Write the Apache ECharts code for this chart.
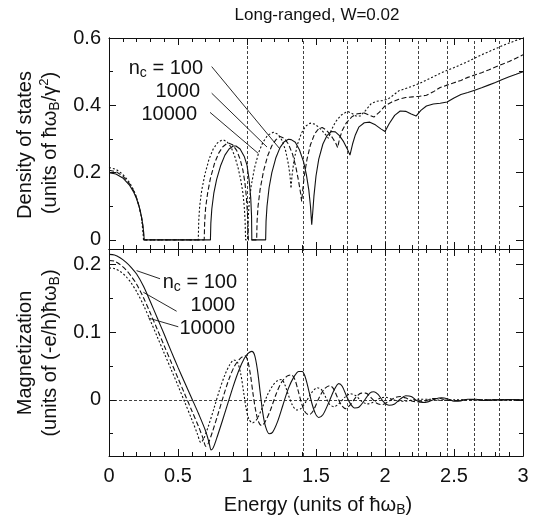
<!DOCTYPE html>
<html>
<head>
<meta charset="utf-8">
<title>Long-ranged, W=0.02</title>
<script src="https://cdn.jsdelivr.net/npm/echarts@6/dist/echarts.min.js"></script>
<style>
    html, body { margin: 0; padding: 0; background: #fff; }
    #chart { width: 537px; height: 520px; }
</style>
</head>
<body>
<div id="chart"></div>
<script>
// density of states, [energy, value]
const dos100 = [[0,0.2],[0.05,0.196],[0.1,0.184],[0.15,0.162],[0.18,0.141],[0.2,0.122],[0.22,0.096],[0.235,0.07],[0.245,0.045],[0.252,0.02],[0.255,0],
    [0.735,0],[0.738,0.05],[0.745,0.092],[0.76,0.14],[0.78,0.18],[0.81,0.222],[0.84,0.252],[0.87,0.27],[0.9,0.279],[0.92,0.279],[0.95,0.27],[0.98,0.248],[1.0,0.222],[1.015,0.18],[1.027,0.125],[1.033,0.07],[1.035,0],
    [1.135,0],[1.138,0.055],[1.145,0.1],[1.16,0.155],[1.18,0.2],[1.21,0.245],[1.24,0.275],[1.27,0.292],[1.3,0.299],[1.32,0.298],[1.35,0.29],[1.38,0.268],[1.41,0.232],[1.43,0.195],[1.448,0.148],[1.46,0.1],[1.469,0.045],
    [1.476,0.08],[1.485,0.13],[1.5,0.19],[1.52,0.24],[1.55,0.285],[1.58,0.31],[1.61,0.322],[1.64,0.321],[1.67,0.31],[1.7,0.292],[1.725,0.272],[1.746,0.252],
    [1.765,0.285],[1.785,0.312],[1.81,0.335],[1.85,0.348],[1.89,0.35],[1.93,0.342],[1.97,0.33],[2.0,0.322],[2.03,0.345],[2.07,0.37],[2.11,0.383],[2.15,0.382],[2.19,0.374],[2.225,0.368],
    [2.26,0.385],[2.3,0.398],[2.35,0.404],[2.4,0.406],[2.45,0.41],[2.5,0.422],[2.55,0.432],[2.6,0.438],[2.65,0.445],[2.7,0.452],[2.75,0.46],[2.8,0.468],[2.85,0.477],[2.9,0.485],[2.95,0.492],[3.0,0.5]];
const dos1000 = [[0,0.207],[0.05,0.203],[0.1,0.19],[0.15,0.166],[0.18,0.145],[0.2,0.125],[0.22,0.098],[0.235,0.07],[0.245,0.042],[0.25,0.018],[0.253,0],
    [0.69,0],[0.693,0.05],[0.7,0.095],[0.715,0.14],[0.735,0.183],[0.765,0.228],[0.795,0.258],[0.825,0.277],[0.85,0.285],[0.87,0.287],[0.895,0.283],[0.925,0.266],[0.95,0.24],[0.97,0.208],[0.985,0.17],[0.996,0.125],[1.003,0.08],[1.008,0.04],[1.01,0],
    [1.07,0],[1.073,0.055],[1.08,0.1],[1.095,0.15],[1.12,0.205],[1.15,0.25],[1.18,0.28],[1.21,0.298],[1.24,0.307],[1.27,0.302],[1.3,0.285],[1.33,0.255],[1.355,0.215],[1.375,0.172],[1.388,0.14],[1.396,0.114],
    [1.403,0.145],[1.415,0.19],[1.435,0.24],[1.46,0.283],[1.49,0.315],[1.52,0.331],[1.545,0.334],[1.57,0.328],[1.6,0.315],[1.625,0.3],[1.645,0.286],[1.657,0.274],
    [1.67,0.3],[1.69,0.325],[1.72,0.348],[1.76,0.366],[1.8,0.375],[1.85,0.377],[1.89,0.37],[1.92,0.365],[1.96,0.38],[2.0,0.398],[2.05,0.41],[2.1,0.418],[2.15,0.423],[2.2,0.425],[2.25,0.427],[2.3,0.43],
    [2.35,0.44],[2.4,0.453],[2.45,0.46],[2.5,0.467],[2.55,0.474],[2.6,0.483],[2.65,0.49],[2.7,0.497],[2.75,0.505],[2.8,0.514],[2.85,0.522],[2.9,0.53],[2.95,0.54],[3.0,0.55]];
const dos10000 = [[0,0.215],[0.05,0.21],[0.1,0.195],[0.15,0.17],[0.18,0.147],[0.2,0.126],[0.22,0.097],[0.235,0.066],[0.242,0.04],[0.248,0.015],[0.25,0],
    [0.647,0],[0.65,0.055],[0.657,0.1],[0.672,0.148],[0.695,0.195],[0.725,0.24],[0.755,0.27],[0.785,0.288],[0.81,0.295],[0.83,0.297],[0.855,0.292],[0.885,0.275],[0.91,0.25],[0.935,0.215],[0.955,0.178],[0.97,0.14],[0.98,0.1],[0.986,0.06],[0.99,0],
    [1.005,0],[1.008,0.06],[1.015,0.105],[1.03,0.16],[1.055,0.215],[1.085,0.26],[1.115,0.29],[1.15,0.311],[1.19,0.32],[1.225,0.314],[1.255,0.295],[1.28,0.265],[1.3,0.225],[1.312,0.19],[1.319,0.153],
    [1.326,0.19],[1.34,0.235],[1.365,0.283],[1.395,0.318],[1.425,0.338],[1.457,0.347],[1.49,0.344],[1.52,0.335],[1.55,0.322],[1.575,0.31],[1.59,0.302],
    [1.61,0.325],[1.64,0.35],[1.68,0.37],[1.715,0.379],[1.735,0.381],[1.76,0.376],[1.79,0.368],[1.82,0.368],[1.86,0.385],[1.9,0.405],[1.94,0.412],[1.98,0.414],[2.02,0.418],[2.06,0.43],[2.1,0.443],
    [2.15,0.45],[2.2,0.457],[2.25,0.465],[2.3,0.475],[2.35,0.485],[2.4,0.495],[2.45,0.504],[2.5,0.512],[2.55,0.521],[2.6,0.53],[2.65,0.54],[2.7,0.55],[2.75,0.559],[2.8,0.568],[2.85,0.577],[2.9,0.585],[2.95,0.593],[3.0,0.6]];

// magnetization, [energy, value]
const mag100 = [[0,0.215],[0.04,0.214],[0.08,0.21],[0.12,0.204],[0.16,0.196],[0.2,0.186],[0.25,0.168],[0.3,0.145],[0.35,0.121],[0.4,0.097],[0.45,0.072],[0.5,0.048],[0.55,0.025],[0.6,0.002],[0.65,-0.021],[0.7,-0.046],[0.725,-0.063],[0.74,-0.074],
    [0.755,-0.071],[0.78,-0.057],[0.82,-0.032],[0.86,-0.006],[0.9,0.02],[0.94,0.043],[0.98,0.061],[1.01,0.069],[1.035,0.0716],[1.055,0.066],[1.075,0.045],[1.095,0.012],[1.115,-0.02],[1.135,-0.04],[1.16,-0.05],[1.185,-0.048],
    [1.22,-0.033],[1.26,-0.008],[1.3,0.017],[1.34,0.034],[1.375,0.042],[1.4,0.042],[1.42,0.035],[1.445,0.016],[1.47,-0.005],[1.495,-0.02],[1.52,-0.026],[1.55,-0.022],[1.59,-0.005],[1.63,0.014],[1.665,0.024],[1.69,0.02],
    [1.72,0.006],[1.75,-0.006],[1.78,-0.012],[1.81,-0.011],[1.85,-0.001],[1.89,0.01],[1.92,0.012],[1.95,0.008],[1.99,-0.003],[2.03,-0.008],[2.07,-0.006],[2.11,0.001],[2.15,0.006],[2.19,0.005],[2.23,-0.001],[2.27,-0.004],
    [2.31,-0.003],[2.36,0.001],[2.41,0.003],[2.46,0.001],[2.5,-0.002],[2.55,-0.0015],[2.6,0.001],[2.66,0.001],[2.72,-0.001],[2.8,0],[2.9,0.0005],[3.0,0]];
const mag1000 = [[0,0.206],[0.04,0.205],[0.08,0.2],[0.12,0.193],[0.16,0.183],[0.2,0.171],[0.25,0.151],[0.3,0.128],[0.35,0.104],[0.4,0.08],[0.45,0.056],[0.5,0.032],[0.55,0.008],[0.6,-0.016],[0.65,-0.04],[0.68,-0.056],[0.703,-0.069],
    [0.72,-0.064],[0.75,-0.047],[0.79,-0.021],[0.83,0.006],[0.87,0.031],[0.91,0.05],[0.95,0.061],[0.985,0.065],[1.005,0.058],[1.025,0.037],[1.045,0.007],[1.065,-0.018],[1.085,-0.033],[1.105,-0.038],
    [1.13,-0.033],[1.17,-0.015],[1.21,0.008],[1.25,0.026],[1.29,0.035],[1.32,0.037],[1.345,0.031],[1.37,0.014],[1.4,-0.008],[1.425,-0.019],[1.45,-0.022],[1.48,-0.016],[1.52,0.002],[1.56,0.016],[1.6,0.021],[1.625,0.017],
    [1.655,0.004],[1.685,-0.008],[1.715,-0.013],[1.75,-0.007],[1.79,0.004],[1.83,0.01],[1.86,0.01],[1.9,0.003],[1.94,-0.005],[1.98,-0.007],[2.02,-0.003],[2.07,0.003],[2.11,0.005],[2.16,0.002],[2.2,-0.002],[2.25,-0.003],
    [2.3,-0.001],[2.35,0.002],[2.4,0.002],[2.46,-0.001],[2.52,-0.001],[2.6,0.0005],[2.7,0],[2.85,0],[3.0,0]];
const mag10000 = [[0,0.195],[0.04,0.194],[0.08,0.19],[0.12,0.183],[0.16,0.173],[0.2,0.16],[0.25,0.14],[0.3,0.117],[0.35,0.093],[0.4,0.069],[0.45,0.045],[0.5,0.021],[0.55,-0.004],[0.6,-0.029],[0.64,-0.05],[0.665,-0.063],
    [0.685,-0.058],[0.72,-0.039],[0.76,-0.013],[0.8,0.014],[0.84,0.037],[0.875,0.052],[0.905,0.059],[0.93,0.056],[0.955,0.038],[0.975,0.012],[0.995,-0.014],[1.015,-0.029],[1.04,-0.034],[1.07,-0.029],[1.11,-0.012],
    [1.15,0.008],[1.19,0.022],[1.225,0.029],[1.25,0.03],[1.275,0.022],[1.3,0.007],[1.33,-0.008],[1.36,-0.015],[1.39,-0.013],[1.43,-0.002],[1.47,0.011],[1.51,0.018],[1.54,0.015],[1.57,0.004],[1.6,-0.007],[1.63,-0.01],
    [1.67,-0.005],[1.71,0.004],[1.75,0.009],[1.79,0.006],[1.83,-0.002],[1.87,-0.006],[1.91,-0.004],[1.96,0.002],[2.0,0.004],[2.05,0.001],[2.1,-0.002],[2.15,-0.002],[2.2,0],[2.25,0.001],[2.32,0.001],[2.4,-0.0005],
    [2.5,0],[2.7,0],[3.0,0]];

// Landau level positions sqrt(n), drawn as dashed verticals
const levelLines = [1, 1.414, 1.732, 2, 2.236, 2.449, 2.646, 2.828];

const dosTicks = [0, 0.2, 0.4, 0.6];
const dosMinorTicks = [0.1, 0.3, 0.5];
const magTicks = [0, 0.1, 0.2];
const magMinorTicks = [-0.05, 0.05, 0.15];

const ncLabels = ['100', '1000', '10000'];

// label pointer lines, [from, to] in data units
const dosPointers = [[[0.744, 0.515], [1.239, 0.27]], [[0.744, 0.436], [1.145, 0.276]], [[0.732, 0.379], [1.082, 0.257]]];
const magPointers = [[[0.37, 0.179], [0.2, 0.191]], [[0.49, 0.131], [0.249, 0.159]], [[0.502, 0.108], [0.285, 0.121]]];

const FONT = '"Liberation Sans", Arial, Helvetica, sans-serif';
const INK = '#111';

function xAxis(grid, pos, labels) {
    return {
        type: 'value', gridIndex: grid, position: pos, min: 0, max: 3, interval: 0.5,
        axisLine: { show: true, onZero: false, lineStyle: { color: INK, width: 1 } },
        axisTick: { show: true, inside: true, length: 7, lineStyle: { color: INK } },
        minorTick: { show: true, splitNumber: 5, length: 4, lineStyle: { color: INK } },
        axisLabel: labels ? { show: true, margin: 10, color: INK, fontSize: 20, fontFamily: FONT } : { show: false },
        splitLine: { show: false }
    };
}

function yAxis(grid, pos, min, max, ticks, len, labels) {
    return {
        type: 'value', gridIndex: grid, position: pos, min: min, max: max,
        axisLine: { show: true, onZero: false, lineStyle: { color: INK, width: 1 } },
        axisTick: { show: true, inside: true, length: len, customValues: ticks, lineStyle: { color: INK } },
        axisLabel: labels ? { show: true, customValues: ticks, margin: 8, color: INK, fontSize: 20, fontFamily: FONT } : { show: false },
        splitLine: { show: false }
    };
}

function curve(data, xi, yi, dash, smooth, extra) {
    return Object.assign({
        type: 'line', xAxisIndex: xi, yAxisIndex: yi, data: data,
        symbol: 'none', showSymbol: false, smooth: smooth, silent: true,
        lineStyle: { color: INK, width: 1.1, type: dash }
    }, extra || {});
}

const refLine = { color: INK, width: 0.8, type: [3, 2] };

function levelMarks(withZero) {
    const d = levelLines.map(v => ({ xAxis: v }));
    if (withZero) d.push({ yAxis: 0 });
    return { markLine: { silent: true, symbol: ['none', 'none'], label: { show: false }, lineStyle: refLine, data: d } };
}

function pointerMarks(list) {
    return { markLine: { silent: true, symbol: ['none', 'none'], label: { show: false },
        lineStyle: { color: INK, width: 0.9, type: 'solid' },
        data: list.map(p => [{ coord: p[0] }, { coord: p[1] }]) } };
}

const sub = { fontSize: 14, fontFamily: FONT, lineHeight: 14, verticalAlign: 'bottom', fill: INK };
const sup = { fontSize: 13, fontFamily: FONT, lineHeight: 13, verticalAlign: 'top', fill: INK };

function txt(text, x, y, opts) {
    return Object.assign({
        type: 'text', x: x, y: y, silent: true,
        style: Object.assign({ text: text, fill: INK, fontSize: 20, fontFamily: FONT, lineHeight: 24,
            align: 'center', verticalAlign: 'middle', rich: { sub: sub, sup: sup } }, (opts && opts.style) || {})
    }, (opts && opts.el) || {});
}

const rot = { el: { rotation: Math.PI / 2 } };

const chart = echarts.init(document.getElementById('chart'), null, { renderer: 'canvas' });
chart.setOption({
    animation: false,
    backgroundColor: '#fff',
    grid: [
        { left: 109, right: 14, top: 38, height: 211 },
        { left: 109, right: 14, top: 249, height: 207 }
    ],
    xAxis: [
        xAxis(0, 'bottom', false), xAxis(0, 'top', false),
        xAxis(1, 'bottom', true), xAxis(1, 'top', false)
    ],
    yAxis: [
        yAxis(0, 'left', -0.027, 0.6, dosTicks, 7, true),
        yAxis(0, 'left', -0.027, 0.6, dosMinorTicks, 4, false),
        yAxis(0, 'right', -0.027, 0.6, dosTicks, 7, false),
        yAxis(0, 'right', -0.027, 0.6, dosMinorTicks, 4, false),
        yAxis(1, 'left', -0.083, 0.223, magTicks, 7, true),
        yAxis(1, 'left', -0.083, 0.223, magMinorTicks, 4, false),
        yAxis(1, 'right', -0.083, 0.223, magTicks, 7, false),
        yAxis(1, 'right', -0.083, 0.223, magMinorTicks, 4, false)
    ],
    series: [
        curve(dos100, 0, 0, 'solid', false, levelMarks(false)),
        curve(dos1000, 0, 0, [5, 2.5], false, pointerMarks(dosPointers)),
        curve(dos10000, 0, 0, [2, 2], false),
        curve(mag100, 2, 4, 'solid', 0.3, levelMarks(true)),
        curve(mag1000, 2, 4, [5, 2.5], 0.3, pointerMarks(magPointers)),
        curve(mag10000, 2, 4, [2, 2], 0.3)
    ],
    graphic: [
        txt('Long-ranged, W=0.02', 317, 15, { style: { fontSize: 17 } }),
        txt('Density of states', 25, 145, rot),
        txt('(units of ħω{sub|B}/γ{sup|2})', 50, 143, rot),
        txt('Magnetization', 25, 353, rot),
        txt('(units of (-e/h)ħω{sub|B})', 50, 353, rot),
        txt('Energy (units of ħω{sub|B})', 318, 505),
        txt('n{sub|c} = ' + ncLabels[0], 203, 68, { style: { align: 'right' } }),
        txt(ncLabels[1], 200, 91, { style: { align: 'right' } }),
        txt(ncLabels[2], 197, 114, { style: { align: 'right' } }),
        txt('n{sub|c} = ' + ncLabels[0], 237, 282, { style: { align: 'right' } }),
        txt(ncLabels[1], 235, 305, { style: { align: 'right' } }),
        txt(ncLabels[2], 235, 328, { style: { align: 'right' } })
    ]
});
</script>
</body>
</html>
